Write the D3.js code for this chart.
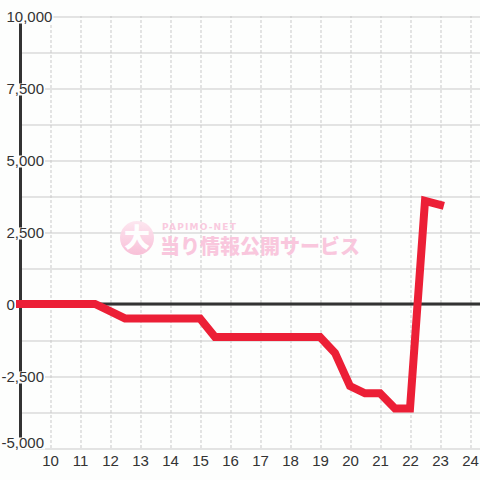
<!DOCTYPE html>
<html>
<head>
<meta charset="utf-8">
<script src="https://cdn.jsdelivr.net/npm/d3@7"></script>
<style>
  html, body { margin: 0; padding: 0; background: #fdfefd; }
  svg { display: block; }
</style>
</head>
<body>
<svg id="chart" width="480" height="480"></svg>
<script>
// ---- data ----
const hours = [9, 9.5, 10, 10.5, 11, 11.5, 12, 12.5, 13, 13.5, 14, 14.5, 15, 15.5, 16, 16.5,
               17, 17.5, 18, 18.5, 19, 19.5, 20, 20.5, 21, 21.5, 22, 22.5, 23];
const values = [0, 0, 0, 0, 0, 0, -250, -500, -500, -500, -500, -500, -500, -1150, -1150, -1150,
                -1150, -1150, -1150, -1150, -1150, -1700, -2850, -3100, -3100, -3630, -3630, 3580, 3440];
const xTickValues = [10, 11, 12, 13, 14, 15, 16, 17, 18, 19, 20, 21, 22, 23, 24];
const yLabelValues = [-5000, -2500, 0, 2500, 5000, 7500, 10000];
const yGridValues = [-5000, -3750, -2500, -1250, 0, 1250, 2500, 3750, 5000, 6250, 7500, 8750, 10000];
const watermarkSmall = "PAPIMO-NET";
const watermarkMark = "大";
const watermarkText = "当り情報公開サービス";

// ---- setup ----
const W = 480, H = 480;
const BG = "#fdfefd";
const svg = d3.select("#chart");
svg.append("rect").attr("width", W).attr("height", H).attr("fill", BG);

const x = d3.scaleLinear().domain([9, 24 + 1/3]).range([20, 480]);
const y = d3.scaleLinear().domain([-5000, 10000]).range([448, 16]);
const fmt = v => d3.format(",")(v).replace("−", "-");

// horizontal grid
const hg = svg.append("g").attr("transform", "translate(20,0)")
  .call(d3.axisLeft(y).tickValues(yGridValues).tickSize(-460).tickFormat(""));
hg.select(".domain").remove();
hg.selectAll("line").attr("stroke", "#c9c9c9").attr("stroke-width", 1)
  .attr("transform", "translate(0,0.5)");

// vertical dashed grid
const vg = svg.append("g").attr("transform", `translate(0,${y(-5000)})`)
  .call(d3.axisBottom(x).tickValues(xTickValues).tickSize(-(y(-5000) - y(10000))).tickFormat(""));
vg.select(".domain").remove();
vg.selectAll("line").attr("stroke", "#c9c9c9").attr("stroke-width", 1)
  .attr("stroke-dasharray", "3,2").attr("transform", "translate(0.5,0)");

// watermark
const wm = svg.append("g").attr("opacity", 0.95);
const defs = svg.append("defs");
const grad = defs.append("linearGradient").attr("id", "wmgrad")
  .attr("x1", 0).attr("y1", 0).attr("x2", 0).attr("y2", 1);
grad.append("stop").attr("offset", "0%").attr("stop-color", "#fde6f0");
grad.append("stop").attr("offset", "100%").attr("stop-color", "#f8bdd6");
wm.append("circle").attr("cx", 137).attr("cy", 238).attr("r", 17).attr("fill", "url(#wmgrad)");
wm.append("text").attr("x", 137).attr("y", 247).attr("text-anchor", "middle")
  .attr("font-family", "'Noto Sans CJK JP', sans-serif").attr("font-weight", 900)
  .attr("font-size", 26).attr("fill", "#ffffff").text(watermarkMark);
wm.append("text").attr("x", 162).attr("y", 230)
  .attr("font-family", "'DejaVu Sans', sans-serif").attr("font-weight", "bold")
  .attr("font-size", 9).attr("letter-spacing", 1.2).attr("fill", "#f9c8dd").text(watermarkSmall);
wm.append("text").attr("x", 160).attr("y", 254)
  .attr("font-family", "'Noto Sans CJK JP', sans-serif").attr("font-weight", 900)
  .attr("font-size", 20).attr("fill", "#f9c5dc").text(watermarkText);

// zero line
svg.append("line").attr("x1", 20).attr("x2", 480).attr("y1", y(0)).attr("y2", y(0))
  .attr("stroke", "#333").attr("stroke-width", 3);

// left axis line
svg.append("line").attr("x1", 20.5).attr("x2", 20.5).attr("y1", y(10000)).attr("y2", y(-5000))
  .attr("stroke", "#333").attr("stroke-width", 3);

// y labels with background boxes
const ya = svg.append("g")
  .call(d3.axisLeft(y).tickValues(yLabelValues).tickSize(0).tickFormat(fmt));
ya.select(".domain").remove();
ya.selectAll(".tick").each(function(d) {
  const t = d3.select(this);
  const cy = Math.min(y(d), 442);
  t.attr("transform", `translate(0,${cy + 0.5})`);
  const txt = t.select("text")
    .attr("x", 6.5).attr("dy", "0.36em")
    .attr("text-anchor", "start")
    .attr("dx", d < 0 ? "-0.333em" : 0)
    .attr("font-family", "'Liberation Sans', Arial, sans-serif")
    .attr("font-size", 15).attr("fill", "#333");
  const bb = txt.node().getBBox();
  t.insert("rect", "text")
    .attr("x", bb.x - 1).attr("width", bb.width + 2)
    .attr("y", -5).attr("height", 12)
    .attr("fill", BG);
});

// x labels
const xa = svg.append("g").attr("transform", `translate(0,${y(-5000)})`)
  .call(d3.axisBottom(x).tickValues(xTickValues).tickSize(0).tickFormat(d => d));
xa.select(".domain").remove();
xa.selectAll("text").attr("y", 17.5).attr("dy", 0)
  .attr("font-family", "'Liberation Sans', Arial, sans-serif")
  .attr("font-size", 15).attr("fill", "#333");

// red line
const line = d3.line().x((d, i) => x(hours[i])).y(d => y(d));
svg.append("path").datum(values)
  .attr("d", line)
  .attr("fill", "none")
  .attr("stroke", "#ec1f36")
  .attr("stroke-width", 8)
  .attr("stroke-linecap", "square")
  .attr("stroke-linejoin", "miter");
</script>
</body>
</html>
